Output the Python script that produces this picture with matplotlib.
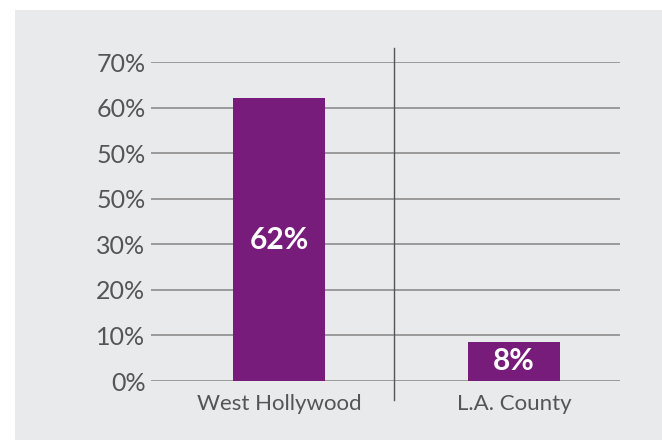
import matplotlib
matplotlib.use("Agg")

import matplotlib.pyplot as plt
from matplotlib.patches import Rectangle

# data
categories = ["West Hollywood", "L.A. County"]
values = [62.1, 8.6]
bar_labels = ["62%", "8%"]
tick_values = [0, 10, 20, 30, 40, 50, 60, 70]
tick_labels = ["0%", "10%", "20%", "30%", "50%", "50%", "60%", "70%"]

plt.rcParams["font.family"] = ["Lato", "DejaVu Sans"]

fig = plt.figure(figsize=(6.62, 4.40), dpi=100)
fig.patch.set_facecolor("white")

# grey panel behind the chart
fig.add_artist(
    Rectangle((15 / 662, 0), 1, (440 - 10) / 440, transform=fig.transFigure,
              facecolor="#e9eaec", edgecolor="none", zorder=-5)
)

ax = fig.add_axes([151 / 662, 59 / 440, 469 / 662, 319 / 440])
ax.set_facecolor("none")

x = list(range(len(categories)))
bars = ax.bar(x, values, width=0.39, color="#781c7c", zorder=3)

for b, lab in zip(bars, bar_labels):
    ax.text(b.get_x() + b.get_width() / 2, b.get_height() / 2, lab,
            ha="center", va="center", color="white", fontsize=21.5,
            fontweight="bold", zorder=4)

ax.set_xlim(-0.545, 1.451)
ax.set_ylim(0, 70)

ax.set_yticks(tick_values)
ax.set_yticklabels(tick_labels)
ax.set_xticks(x)
ax.set_xticklabels(categories)

ax.yaxis.grid(True, color="#9a9a9a", linewidth=1.4, zorder=1)
ax.set_axisbelow(True)
ax.tick_params(axis="y", length=0, pad=4, labelsize=18, labelcolor="#555555")
ax.tick_params(axis="x", length=0, pad=9, labelsize=16, labelcolor="#555555")

for s in ax.spines.values():
    s.set_visible(False)

# divider between the two groups
ax.plot([0.49, 0.49], [-4.2, 73.1], color="#555555", linewidth=1.0,
        clip_on=False, zorder=2)

fig.savefig("out.png", dpi=100)
plt.close(fig)
